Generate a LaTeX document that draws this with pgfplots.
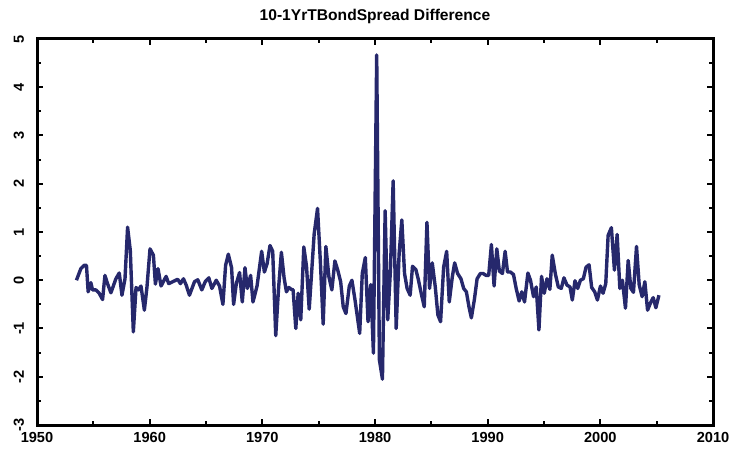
\documentclass[border=0pt]{standalone}
\usepackage{fontspec}
\setmainfont{Liberation Sans}
\usepackage{pgfplots}
\pgfplotsset{compat=1.18}
\definecolor{spreadnavy}{RGB}{38,40,108}

\begin{document}
\begin{tikzpicture}
\begin{axis}[
    scale only axis,
    width=338pt, height=193pt,
    xmin=1950, xmax=2010,
    ymin=-3, ymax=5,
    xtick={1950,1960,...,2010},
    ytick={-3,-2,...,5},
    minor x tick num=1,
    minor y tick num=1,
    tick align=inside,
    major tick length=3pt,
    minor tick length=2pt,
    every tick/.style={black, line width=1pt},
    axis line style={line width=1.5pt},
    /pgf/number format/assume math mode=true,
    /pgf/number format/1000 sep={},
    ticklabel style={font=\fontsize{7.3}{8}\selectfont\bfseries},
    yticklabel style={rotate=90, anchor=south},
    yticklabel shift=3pt,
    title={10-1YrTBondSpread Difference},
    title style={font=\fontsize{7.8}{9}\selectfont\bfseries, yshift=-2pt},
]
\addplot[spreadnavy, line width=1.7pt, line join=round] coordinates {
(1953.50,0.00) (1953.89,0.24) (1954.19,0.31) (1954.39,0.31) (1954.54,-0.24)
(1954.78,-0.05) (1954.93,-0.20) (1955.22,-0.20) (1955.52,-0.27) (1955.82,-0.40)
(1956.03,0.10) (1956.26,-0.07) (1956.56,-0.26) (1957.00,0.03) (1957.30,0.15)
(1957.54,-0.31) (1957.81,0.03) (1958.04,1.10) (1958.28,0.62) (1958.55,-1.07)
(1958.79,-0.15) (1959.02,-0.20) (1959.23,-0.12) (1959.53,-0.62) (1959.76,-0.14)
(1960.03,0.65) (1960.33,0.52) (1960.51,-0.08) (1960.74,0.24) (1961.01,-0.12)
(1961.46,0.08) (1961.69,-0.07) (1962.05,-0.03) (1962.49,0.02) (1962.73,-0.07)
(1963.00,0.03) (1963.24,-0.10) (1963.53,-0.31) (1963.98,-0.03) (1964.27,0.01)
(1964.63,-0.20) (1964.93,-0.03) (1965.25,0.05) (1965.52,-0.17) (1965.91,0.00)
(1966.20,-0.12) (1966.50,-0.50) (1966.74,0.31) (1966.98,0.54) (1967.27,0.26)
(1967.45,-0.50) (1967.69,-0.07) (1967.98,0.16) (1968.22,-0.45) (1968.46,0.26)
(1968.67,-0.17) (1968.96,0.10) (1969.17,-0.45) (1969.53,-0.12) (1969.94,0.60)
(1970.18,0.17) (1970.42,0.34) (1970.68,0.72) (1970.92,0.60) (1971.19,-1.15)
(1971.43,-0.20) (1971.69,0.58) (1971.93,0.05) (1972.14,-0.24) (1972.35,-0.15)
(1972.58,-0.19) (1972.73,-0.20) (1972.97,-1.00) (1973.18,-0.27) (1973.41,-0.82)
(1973.68,0.69) (1973.92,0.29) (1974.16,-0.60) (1974.60,0.96) (1974.90,1.49)
(1975.16,0.34) (1975.40,-0.91) (1975.64,0.70) (1975.91,0.07) (1976.17,-0.20)
(1976.44,0.40) (1976.68,0.22) (1976.95,-0.03) (1977.18,-0.55) (1977.42,-0.69)
(1977.72,-0.12) (1977.95,0.00) (1978.22,-0.40) (1978.64,-1.10) (1978.87,0.14)
(1979.14,0.47) (1979.38,-0.86) (1979.62,-0.09) (1979.86,-1.51) (1980.15,4.67)
(1980.39,-1.65) (1980.66,-2.05) (1980.90,1.44) (1981.13,-0.82) (1981.37,0.21)
(1981.61,2.06) (1981.88,-1.00) (1982.14,0.55) (1982.38,1.25) (1982.62,0.14)
(1982.85,-0.17) (1983.12,-0.31) (1983.33,0.29) (1983.63,0.22) (1983.86,0.00)
(1984.10,-0.27) (1984.37,-0.55) (1984.61,1.20) (1984.84,-0.17) (1985.08,0.36)
(1985.35,-0.14) (1985.58,-0.72) (1985.82,-0.86) (1986.09,0.27) (1986.36,0.60)
(1986.59,-0.45) (1986.86,0.07) (1987.07,0.36) (1987.33,0.14) (1987.63,0.03)
(1987.87,-0.17) (1988.11,-0.24) (1988.34,-0.55) (1988.55,-0.78) (1988.82,-0.40)
(1989.06,0.03) (1989.35,0.14) (1989.59,0.14) (1989.86,0.10) (1990.09,0.10)
(1990.33,0.74) (1990.57,-0.12) (1990.81,0.65) (1991.04,0.19) (1991.31,0.14)
(1991.55,0.60) (1991.76,0.17) (1992.02,0.17) (1992.29,0.12) (1992.53,-0.17)
(1992.79,-0.43) (1993.03,-0.24) (1993.27,-0.45) (1993.57,0.15) (1993.80,0.00)
(1994.07,-0.34) (1994.31,-0.14) (1994.55,-1.03) (1994.78,0.08) (1995.02,-0.27)
(1995.26,0.03) (1995.52,-0.19) (1995.73,0.52) (1996.00,0.14) (1996.27,-0.14)
(1996.53,-0.17) (1996.77,0.05) (1997.04,-0.10) (1997.31,-0.14) (1997.51,-0.41)
(1997.75,-0.01) (1997.99,-0.17) (1998.23,0.00) (1998.49,0.03) (1998.73,0.27)
(1999.00,0.32) (1999.23,-0.15) (1999.50,-0.24) (1999.74,-0.41) (2000.01,-0.12)
(2000.24,-0.27) (2000.48,-0.07) (2000.69,0.93) (2000.98,1.09) (2001.25,0.21)
(2001.49,0.95) (2001.73,-0.17) (2001.96,0.00) (2002.23,-0.58) (2002.47,0.41)
(2002.71,-0.17) (2002.94,-0.25) (2003.21,0.70) (2003.45,-0.10) (2003.71,-0.34)
(2003.95,-0.03) (2004.19,-0.62) (2004.43,-0.48) (2004.69,-0.36) (2004.93,-0.57)
(2005.20,-0.31)
};
\end{axis}
\pgfresetboundingbox
\path (current axis.south west) ++(-18.5pt,-13pt) coordinate (bbsw);
\path (current axis.north east) ++(9.5pt,19.5pt) coordinate (bbne);
\useasboundingbox (bbsw) rectangle (bbne);
\end{tikzpicture}
\end{document}
